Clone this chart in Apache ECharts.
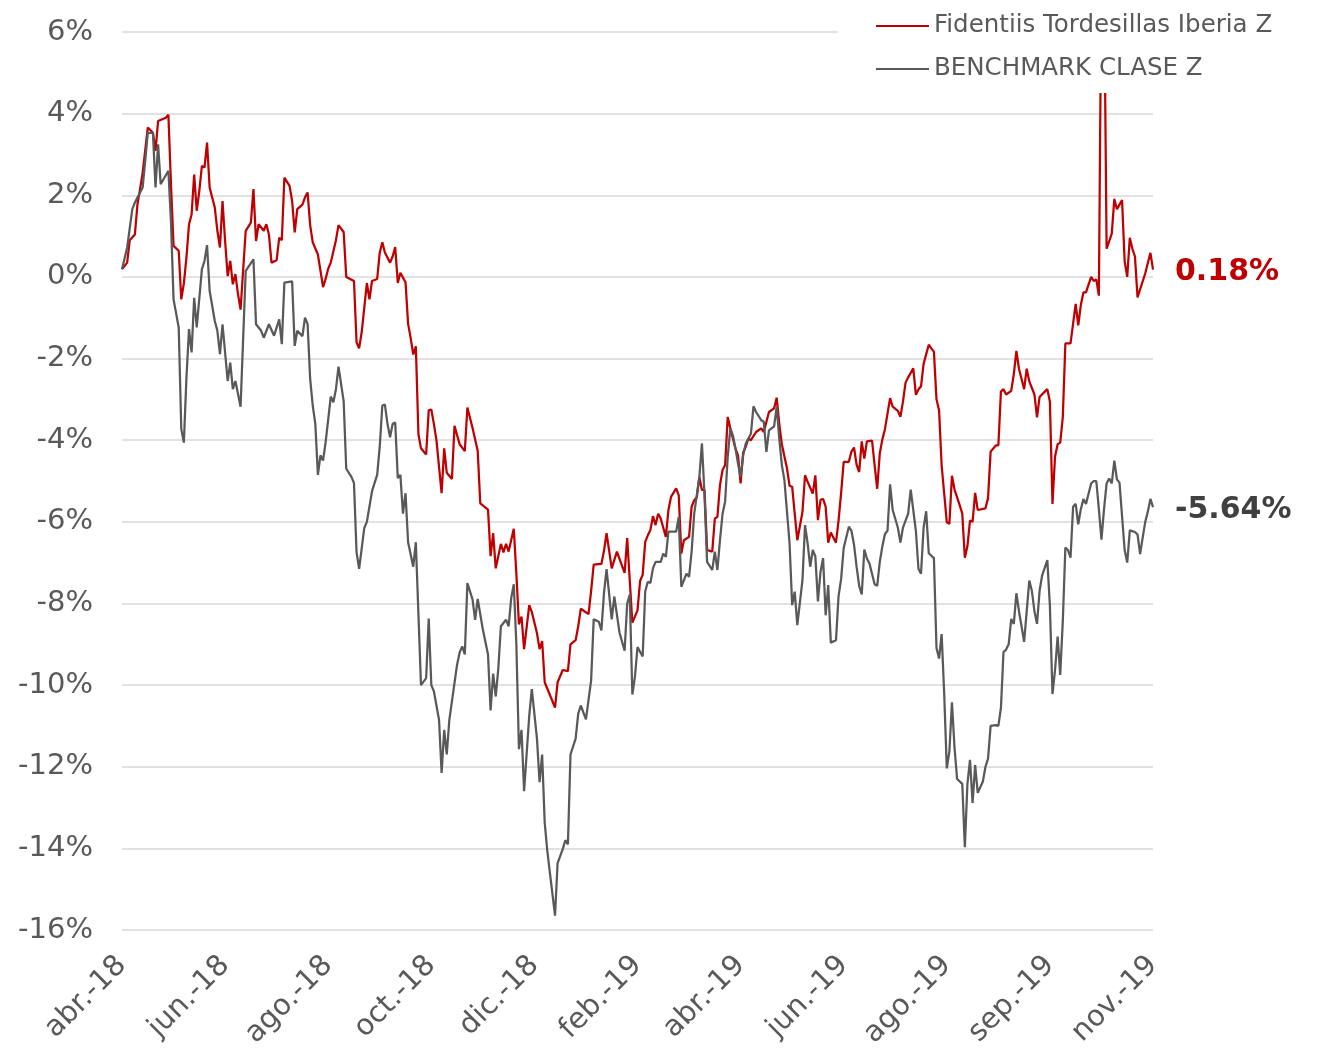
<!DOCTYPE html>
<html><head><meta charset="utf-8">
<script src="https://cdn.jsdelivr.net/npm/echarts/dist/echarts.min.js"></script>
<style>html,body{margin:0;padding:0;background:#fff}#c{width:1324px;height:1048px}</style>
</head><body><div id="c"></div><script>
// x = trading-day index from start (abr.-18), y = cumulative return in %
const tickLabels = ['abr.-18','jun.-18','ago.-18','oct.-18','dic.-18','feb.-19','abr.-19','jun.-19','ago.-19','sep.-19','nov.-19'];
const fundName = 'Fidentiis Tordesillas Iberia Z';
const benchName = 'BENCHMARK CLASE Z';

const fundPoints = [[0,0.19],[2,0.35],[3,0.9],[5,1.04],[6,1.78],[7,2.15],[8,2.55],[10,3.66],[12,3.53],[13,3.09],[14,3.82],[17,3.9],[18,3.97],[19,2.27],[20,0.76],[22,0.64],[23,-0.55],[24,-0.16],[25,0.47],[26,1.29],[27,1.53],[28,2.51],[29,1.62],[30,2.11],[31,2.72],[32,2.68],[33,3.29],[34,2.19],[36,1.70],[37,1.13],[38,0.72],[39,1.86],[40,0.88],[41,0.02],[42,0.39],[43,-0.18],[44,0.07],[45,-0.42],[46,-0.8],[48,1.13],[50,1.33],[51,2.15],[52,0.88],[53,1.29],[55,1.13],[56,1.29],[57,1.04],[58,0.35],[60,0.41],[61,0.96],[62,0.9],[63,2.43],[65,2.23],[66,1.86],[67,1.09],[68,1.66],[70,1.77],[71,1.95],[72,2.07],[73,1.27],[74,0.85],[76,0.55],[78,-0.25],[79,-0.05],[80,0.2],[81,0.35],[83,0.9],[84,1.27],[86,1.1],[87,0.0],[90,-0.1],[91,-1.6],[92,-1.75],[93,-1.35],[94,-0.75],[95,-0.15],[96,-0.55],[97,-0.1],[99,-0.05],[100,0.6],[101,0.85],[102,0.6],[104,0.35],[105,0.5],[106,0.73],[107,-0.15],[108,0.1],[110,-0.13],[111,-1.15],[112,-1.5],[113,-1.9],[114,-1.7],[115,-3.85],[116,-4.2],[118,-4.35],[119,-3.27],[120,-3.25],[121,-3.6],[122,-4.0],[124,-5.3],[125,-4.2],[126,-4.8],[128,-4.95],[129,-3.65],[131,-4.1],[133,-4.27],[134,-3.2],[136,-3.7],[138,-4.26],[139,-5.55],[142,-5.7],[143,-6.84],[144,-6.28],[145,-7.14],[147,-6.54],[148,-6.75],[149,-6.54],[150,-6.73],[152,-6.17],[153,-7.27],[154,-8.51],[155,-8.32],[156,-9.12],[158,-8.04],[159,-8.21],[161,-8.73],[162,-9.12],[163,-8.92],[164,-9.93],[168,-10.55],[169,-9.93],[171,-9.63],[173,-9.66],[174,-9.0],[176,-8.9],[177,-8.56],[178,-8.13],[181,-8.26],[182,-7.7],[183,-7.05],[186,-7.03],[187,-6.71],[188,-6.28],[190,-7.14],[192,-6.73],[195,-7.25],[196,-6.4],[198,-8.47],[200,-8.17],[201,-7.45],[202,-7.3],[203,-6.49],[204,-6.33],[205,-6.2],[206,-5.86],[207,-6.08],[208,-5.8],[209,-5.92],[211,-6.37],[212,-5.71],[213,-5.39],[215,-5.18],[216,-5.35],[217,-6.78],[218,-6.45],[220,-6.37],[221,-5.63],[222,-5.47],[223,-5.4],[224,-4.9],[225,-5.22],[226,-5.22],[227,-6.69],[229,-6.73],[230,-5.92],[231,-5.88],[232,-5.1],[233,-4.73],[234,-4.61],[235,-3.43],[236,-3.71],[237,-3.96],[238,-4.2],[239,-4.37],[240,-5.06],[241,-4.3],[242,-4.16],[243,-3.96],[244,-4.0],[246,-3.8],[248,-3.71],[249,-3.8],[251,-3.31],[253,-3.22],[254,-2.96],[255,-3.6],[256,-4.1],[257,-4.4],[258,-4.69],[259,-5.12],[260,-5.14],[261,-5.8],[262,-6.45],[264,-5.76],[265,-4.86],[266,-5.02],[268,-5.31],[269,-4.86],[270,-5.96],[271,-5.46],[272,-5.44],[273,-5.63],[274,-6.51],[275,-6.26],[277,-6.51],[278,-5.97],[279,-5.29],[280,-4.53],[282,-4.53],[283,-4.28],[284,-4.18],[285,-4.6],[286,-4.78],[287,-4.03],[288,-4.45],[289,-4.03],[291,-4.01],[292,-4.62],[293,-5.19],[294,-4.32],[295,-3.98],[296,-3.73],[298,-2.97],[299,-3.18],[301,-3.28],[302,-3.43],[303,-3.05],[304,-2.59],[305,-2.46],[307,-2.24],[308,-2.89],[309,-2.76],[310,-2.68],[311,-2.13],[313,-1.66],[314,-1.75],[315,-1.83],[316,-3.0],[317,-3.27],[318,-4.62],[320,-6.01],[321,-6.05],[322,-4.87],[323,-5.21],[325,-5.59],[326,-5.8],[327,-6.88],[328,-6.6],[329,-5.97],[330,-6.0],[331,-5.29],[332,-5.71],[335,-5.67],[336,-5.42],[337,-4.28],[339,-4.13],[340,-4.13],[341,-2.81],[342,-2.75],[343,-2.88],[345,-2.79],[346,-2.38],[347,-1.81],[348,-2.25],[350,-2.75],[351,-2.25],[352,-2.56],[354,-2.88],[355,-3.44],[356,-2.94],[358,-2.81],[359,-2.75],[360,-3.06],[361,-5.56],[362,-4.4],[363,-4.1],[364,-4.06],[365,-3.44],[366,-1.63],[368,-1.63],[370,-0.66],[371,-1.19],[372,-0.69],[373,-0.38],[374,-0.38],[375,-0.19],[376,0.0],[377,-0.1],[378,-0.06],[379,-0.46],[380,7.5],[381,7.5],[382,0.69],[384,1.06],[385,1.91],[386,1.66],[388,1.88],[389,0.38],[390,0.0],[391,0.96],[392,0.69],[393,0.5],[394,-0.5],[397,0.09],[399,0.59],[400,0.18]];

const benchPoints = [[0,0.19],[2,0.72],[4,1.66],[5,1.82],[8,2.19],[9,2.84],[10,3.53],[12,3.53],[13,2.19],[14,3.25],[15,2.27],[18,2.6],[19,1.35],[20,-0.55],[22,-1.24],[23,-3.73],[24,-4.06],[25,-2.47],[26,-1.28],[27,-1.85],[28,-0.51],[29,-1.24],[31,0.19],[32,0.39],[33,0.78],[34,-0.34],[36,-1.08],[37,-1.32],[38,-1.89],[39,-1.16],[41,-2.55],[42,-2.1],[43,-2.75],[44,-2.55],[46,-3.18],[48,0.15],[51,0.43],[52,-1.16],[54,-1.32],[55,-1.49],[57,-1.16],[59,-1.44],[61,-1.04],[62,-1.65],[63,-0.14],[66,-0.11],[67,-1.69],[68,-1.32],[70,-1.45],[71,-1.0],[72,-1.15],[73,-2.5],[74,-3.15],[75,-3.6],[76,-4.85],[77,-4.37],[78,-4.5],[79,-4.05],[81,-2.93],[82,-3.07],[83,-2.75],[84,-2.2],[86,-3.05],[87,-4.7],[89,-4.9],[90,-5.05],[91,-6.75],[92,-7.15],[93,-6.65],[94,-6.15],[95,-6.0],[97,-5.25],[99,-4.85],[100,-4.15],[101,-3.15],[102,-3.13],[103,-3.6],[104,-3.93],[105,-3.6],[106,-3.57],[107,-4.93],[108,-4.85],[109,-5.8],[110,-5.3],[111,-6.5],[113,-7.1],[114,-6.5],[116,-10.0],[118,-9.83],[119,-8.37],[120,-10.0],[121,-10.15],[123,-10.85],[124,-12.15],[125,-11.1],[126,-11.7],[127,-10.85],[130,-9.5],[131,-9.2],[132,-9.05],[133,-9.25],[134,-7.5],[136,-7.9],[137,-8.4],[138,-7.89],[140,-8.64],[142,-9.25],[143,-10.62],[144,-9.72],[145,-10.28],[146,-9.59],[147,-8.56],[149,-8.4],[150,-8.56],[151,-7.87],[152,-7.53],[153,-9.0],[154,-11.57],[155,-11.1],[156,-12.6],[158,-10.75],[159,-10.1],[161,-11.31],[162,-12.38],[163,-11.7],[164,-13.37],[165,-14.06],[168,-15.65],[169,-14.36],[171,-14.02],[172,-13.8],[173,-13.9],[174,-11.7],[176,-11.31],[177,-10.7],[178,-10.5],[180,-10.84],[182,-9.89],[183,-8.39],[185,-8.45],[186,-8.66],[187,-7.74],[188,-7.16],[190,-8.39],[191,-7.83],[193,-8.71],[195,-9.16],[196,-8.0],[197,-7.78],[198,-10.23],[199,-9.8],[200,-9.07],[202,-9.3],[203,-7.7],[204,-7.47],[205,-7.5],[206,-7.14],[207,-6.98],[209,-6.98],[210,-6.78],[211,-6.86],[212,-6.24],[215,-6.24],[216,-5.88],[217,-7.59],[219,-7.27],[220,-7.35],[221,-6.73],[222,-5.8],[224,-4.9],[225,-4.08],[226,-5.35],[227,-6.98],[229,-7.18],[230,-6.73],[231,-7.18],[232,-6.45],[233,-5.8],[234,-5.5],[235,-4.41],[236,-3.71],[237,-3.88],[238,-4.2],[239,-4.57],[240,-4.9],[241,-4.37],[242,-4.08],[244,-3.84],[245,-3.17],[246,-3.31],[248,-3.51],[249,-3.55],[250,-4.29],[251,-3.76],[253,-3.66],[254,-3.18],[255,-3.96],[256,-4.61],[257,-4.98],[258,-5.76],[259,-6.53],[260,-8.04],[261,-7.71],[262,-8.53],[264,-7.43],[265,-6.08],[266,-6.53],[267,-7.1],[268,-6.69],[269,-6.85],[270,-7.95],[271,-7.23],[272,-6.89],[273,-8.29],[274,-7.55],[275,-8.96],[277,-8.9],[278,-7.82],[279,-7.4],[280,-6.64],[282,-6.12],[283,-6.22],[284,-6.56],[285,-7.1],[286,-7.57],[287,-7.78],[288,-6.68],[289,-6.9],[290,-7.02],[292,-7.53],[293,-7.57],[294,-6.98],[295,-6.6],[296,-6.3],[297,-6.22],[298,-5.08],[299,-5.71],[301,-6.14],[302,-6.51],[303,-6.14],[305,-5.8],[306,-5.21],[308,-6.22],[309,-7.15],[310,-7.27],[311,-6.14],[312,-5.74],[313,-6.77],[315,-6.89],[316,-9.09],[317,-9.35],[318,-8.75],[319,-10.23],[320,-12.04],[321,-11.63],[322,-10.42],[323,-11.54],[324,-12.3],[326,-12.42],[327,-13.97],[328,-12.42],[329,-11.83],[330,-12.89],[331,-11.96],[332,-12.64],[334,-12.36],[335,-12.0],[336,-11.8],[337,-11.0],[339,-10.98],[340,-11.0],[341,-10.56],[342,-9.19],[343,-9.13],[344,-9.0],[345,-8.38],[346,-8.5],[347,-7.75],[348,-8.19],[349,-8.56],[350,-8.94],[352,-7.44],[353,-7.69],[354,-8.19],[355,-8.5],[356,-7.69],[357,-7.31],[359,-6.94],[360,-8.06],[361,-10.22],[362,-9.63],[363,-8.81],[364,-9.75],[365,-8.44],[366,-6.63],[367,-6.69],[368,-6.88],[369,-5.63],[370,-5.56],[371,-6.06],[372,-5.69],[373,-5.44],[374,-5.56],[375,-5.31],[376,-5.06],[377,-5.0],[378,-5.0],[379,-5.69],[380,-6.44],[381,-5.69],[382,-5.06],[383,-4.94],[384,-5.06],[385,-4.5],[386,-4.96],[387,-5.04],[389,-6.69],[390,-7.0],[391,-6.21],[393,-6.25],[394,-6.31],[395,-6.79],[396,-6.38],[397,-6.0],[398,-5.75],[399,-5.44],[400,-5.64]];

const FONT = 'DejaVu Sans';
const chart = echarts.init(document.getElementById('c'), null, {renderer: 'canvas'});
const lastDay = 400, tickStep = 40;
chart.setOption({
  animation: false,
  backgroundColor: '#ffffff',
  textStyle: {fontFamily: FONT},
  grid: {left: 122, right: 171, top: 32, bottom: 118, containLabel: false, outerBoundsMode: 'none'},
  legend: {
    orient: 'vertical', left: 838, top: 0,
    padding: [13, 40, 11, 38],
    backgroundColor: '#ffffff',
    icon: 'rect', itemWidth: 53, itemHeight: 2, itemGap: 17,
    textStyle: {fontFamily: FONT, fontSize: 24.5, color: '#595959', lineHeight: 26},
    data: [fundName, benchName]
  },
  xAxis: {
    type: 'value', min: 0, max: lastDay, interval: tickStep,
    axisLine: {show: false}, axisTick: {show: false}, splitLine: {show: false},
    axisLabel: {
      rotate: 45, margin: 31, fontSize: 29, color: '#595959', fontFamily: FONT,
      showMinLabel: true, showMaxLabel: true,
      formatter: v => tickLabels[Math.round(v / tickStep)] || ''
    }
  },
  yAxis: {
    type: 'value', min: -16, max: 6, interval: 2,
    axisLine: {show: false}, axisTick: {show: false},
    splitLine: {lineStyle: {color: '#D9D9D9', width: 1.5}},
    axisLabel: {formatter: '{value}%', fontSize: 29, color: '#595959', margin: 29, fontFamily: FONT}
  },
  series: [
    {
      name: fundName, type: 'line', data: fundPoints, symbol: 'none', clip: true,
      lineStyle: {color: '#C00000', width: 2.25}, itemStyle: {color: '#C00000'},
      endLabel: {show: true, distance: 22, offset: [0, 3], fontSize: 30, fontWeight: 'bold', color: '#C00000', fontFamily: FONT,
        formatter: p => p.value[1].toFixed(2) + '%'}
    },
    {
      name: benchName, type: 'line', data: benchPoints, symbol: 'none', clip: true,
      lineStyle: {color: '#595959', width: 2.25}, itemStyle: {color: '#595959'},
      endLabel: {show: true, distance: 22, offset: [0, 3], fontSize: 30, fontWeight: 'bold', color: '#404040', fontFamily: FONT,
        formatter: p => p.value[1].toFixed(2) + '%'}
    }
  ]
});
</script></body></html>
